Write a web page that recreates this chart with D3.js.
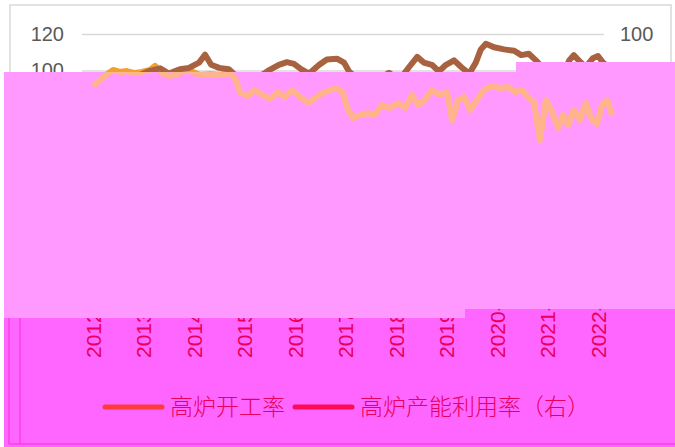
<!DOCTYPE html>
<html>
<head>
<meta charset="utf-8">
<script src="https://cdn.jsdelivr.net/npm/d3@7"></script>
<style>
  body { margin: 0; background: #fff; }
  .tick text { font-family: "Liberation Sans", Arial, sans-serif; font-size: 20px; fill: #595959; }
</style>
</head>
<body>
<div id="chart"></div>
<script>
// data
var years = [2012, 2013, 2014, 2015, 2016, 2017, 2018, 2019, 2020, 2021, 2022];
var tickLabels = ['2012-01-06', '2013-01-04', '2014-01-03', '2015-01-02', '2016-01-08', '2017-01-06',
  '2018-01-05', '2019-01-04', '2020-01-03', '2021-01-08', '2022-01-07'];
var leftTicks = [0, 20, 40, 60, 80, 100, 120];
var rightTicks = [50, 60, 70, 80, 90, 100];
var seriesNames = ['高炉开工率', '高炉产能利用率（右）'];

// 高炉开工率 (left axis)
var openT = [2012.00, 2012.14, 2012.28, 2012.40, 2012.53, 2012.67, 2012.83, 2012.97, 2013.13, 2013.23,
  2013.39, 2013.52, 2013.68, 2013.82, 2013.98, 2014.12, 2014.32, 2014.51, 2014.71, 2014.83,
  2014.91, 2015.05, 2015.21, 2015.35, 2015.50, 2015.66, 2015.80, 2015.94, 2016.10, 2016.26,
  2016.40, 2016.55, 2016.69, 2016.83, 2016.95, 2017.05, 2017.15, 2017.29, 2017.45, 2017.58,
  2017.72, 2017.88, 2018.04, 2018.18, 2018.32, 2018.44, 2018.57, 2018.71, 2018.87, 2019.01,
  2019.11, 2019.23, 2019.35, 2019.47, 2019.60, 2019.74, 2019.90, 2020.06, 2020.22, 2020.36,
  2020.50, 2020.61, 2020.73, 2020.85, 2020.97, 2021.09, 2021.21, 2021.31, 2021.41, 2021.52,
  2021.64, 2021.76, 2021.88, 2021.98, 2022.08, 2022.18, 2022.28];
var openV = [91.5, 94.8, 98, 100.3, 99.2, 99.7, 98.6, 99.2, 100.3, 102.5,
  98, 97, 98, 100.3, 99.2, 97.5, 98, 97.5, 98.6, 94.8,
  88.2, 86, 89.3, 86.6, 84.4, 88.2, 85.5, 89.3, 85.5, 82.2,
  84.9, 87.7, 89.3, 90.4, 87.7, 78.4, 74, 75.6, 76.7, 75.6,
  81.1, 79.5, 82.2, 79.5, 86.6, 81.1, 83.8, 89.3, 86.6, 88.2,
  72.9, 83.8, 85.5, 78.4, 83.8, 89.3, 91.5, 90.4, 91, 88.2,
  89.3, 85.5, 82.7, 61.9, 83.8, 77.3, 68.5, 75.6, 70.1, 78.4,
  72.9, 82.2, 72.9, 70.7, 81.1, 83.8, 75.6];

// 高炉产能利用率 (right axis)
var utilT = [2012.00, 2012.40, 2012.79, 2013.09, 2013.33, 2013.50, 2013.72, 2013.90, 2014.10, 2014.22,
  2014.34, 2014.50, 2014.69, 2014.83, 2015.19, 2015.49, 2015.68, 2015.84, 2015.98, 2016.12,
  2016.28, 2016.48, 2016.63, 2016.83, 2016.97, 2017.07, 2017.27, 2017.56, 2017.86, 2018.06,
  2018.26, 2018.42, 2018.55, 2018.71, 2018.85, 2018.99, 2019.15, 2019.29, 2019.45, 2019.58,
  2019.68, 2019.78, 2019.94, 2020.14, 2020.34, 2020.48, 2020.63, 2020.77, 2020.93, 2021.13,
  2021.33, 2021.43, 2021.52, 2021.66, 2021.76, 2021.90, 2022.00, 2022.10, 2022.28];
var utilV = [89, 89.5, 90, 91.5, 92.2, 91, 92, 92.3, 93.5, 95.3,
  93, 92.3, 92, 90.5, 89.5, 91.8, 93, 93.6, 93.2, 92,
  91, 93, 94.2, 94.4, 93.5, 91.5, 89.5, 89, 91.2, 89.5,
  92.5, 94.8, 93.5, 93, 91.5, 93, 94, 92.5, 91, 93.5,
  96.5, 97.8, 97, 96.5, 96.2, 95.2, 95.5, 94, 92, 90,
  91.5, 94, 95.2, 93.5, 92.5, 94.5, 95, 93.5, 92];

var svg = d3.select('#chart').append('svg')
  .attr('width', 675)
  .attr('height', 447);

var x = d3.scaleLinear().domain([2012, 2022]).range([93, 598]);
var yL = d3.scaleLinear().domain([0, 120]).range([253, 34]);
var yR = d3.scaleLinear().domain([50, 100]).range([254, 34]);

// chart frame
svg.append('rect')
  .attr('x', 10).attr('y', 5)
  .attr('width', 661).attr('height', 436)
  .style('fill', '#fff')
  .style('stroke', '#d9d9d9')
  .style('stroke-width', 1.5);

// gridlines
svg.append('g')
  .attr('transform', 'translate(82,0)')
  .call(d3.axisLeft(yL).tickValues(leftTicks).tickSize(-522).tickFormat(''))
  .call(function (g) { g.select('.domain').remove(); })
  .selectAll('line').style('stroke', '#d9d9d9').style('stroke-width', 1.3);

// left axis
svg.append('g')
  .attr('transform', 'translate(72,0)')
  .call(d3.axisLeft(yL).tickValues(leftTicks).tickSize(0).tickPadding(8))
  .call(function (g) { g.select('.domain').remove(); });

// right axis
svg.append('g')
  .attr('transform', 'translate(612,0)')
  .call(d3.axisRight(yR).tickValues(rightTicks).tickSize(0).tickPadding(8))
  .call(function (g) { g.select('.domain').remove(); });

var openLine = d3.line()
  .x(function (d, i) { return x(openT[i]); })
  .y(function (d) { return yL(d); });

var utilLine = d3.line()
  .x(function (d, i) { return x(utilT[i]); })
  .y(function (d) { return yR(d); });

svg.append('path')
  .attr('d', openLine(openV))
  .style('fill', 'none')
  .style('stroke', '#f2a02e')
  .style('stroke-width', 6)
  .style('stroke-linejoin', 'round');

svg.append('path')
  .attr('d', utilLine(utilV))
  .style('fill', 'none')
  .style('stroke', '#a9623f')
  .style('stroke-width', 6)
  .style('stroke-linejoin', 'round');

// the washed-out block over the plot
var washPts = [[4, 72], [516, 72], [516, 62], [675, 62], [675, 309], [465, 309], [465, 318], [4, 318]];

svg.append('clipPath').attr('id', 'washclip')
  .append('polygon')
  .attr('points', washPts.join(' '));

svg.append('polygon')
  .attr('points', washPts.join(' '))
  .style('fill', '#ff99ff');

svg.append('path')
  .attr('d', openLine(openV))
  .attr('clip-path', 'url(#washclip)')
  .style('fill', 'none')
  .style('stroke', '#ffb48c')
  .style('stroke-width', 6)
  .style('stroke-linejoin', 'round');

// the magenta block under it
var magPts = [[4, 318], [465, 318], [465, 309], [675, 309], [675, 447], [4, 447]];

svg.append('polygon')
  .attr('points', magPts.join(' '))
  .style('fill', '#ff66ff');

svg.append('line')
  .attr('x1', 9).attr('x2', 9).attr('y1', 318).attr('y2', 444)
  .style('stroke', '#ff3fe0').style('stroke-width', 1.5);
svg.append('line')
  .attr('x1', 20).attr('x2', 20).attr('y1', 318).attr('y2', 444)
  .style('stroke', '#ff3fe0').style('stroke-width', 1.5);
svg.append('line')
  .attr('x1', 9).attr('x2', 675).attr('y1', 444).attr('y2', 444)
  .style('stroke', '#ff3fe0').style('stroke-width', 1.5);

// year labels (only their lower part shows below the block)
svg.append('g').selectAll('text')
  .data(years)
  .enter()
  .append('text')
  .attr('transform', function (d) { return 'translate(' + x(d) + ',358) rotate(-90)'; })
  .attr('dy', '0.36em')
  .style('font-family', '"Liberation Sans", Arial, sans-serif')
  .style('font-size', '21px')
  .style('fill', '#e8005c')
  .text(function (d, i) { return tickLabels[i]; });

// cover the label tops again
svg.append('polygon')
  .attr('points', [[4, 250], [675, 250], [675, 309], [465, 309], [465, 318], [4, 318]].join(' '))
  .style('fill', '#ff99ff');

// legend
var legendColors = ['#ff3a3a', '#ff0a55'];
var legendX = [105, 295];

var legend = svg.append('g');
legend.selectAll('line')
  .data(seriesNames)
  .enter()
  .append('line')
  .attr('x1', function (d, i) { return legendX[i]; })
  .attr('x2', function (d, i) { return legendX[i] + 57; })
  .attr('y1', 407).attr('y2', 407)
  .style('stroke', function (d, i) { return legendColors[i]; })
  .style('stroke-width', 5)
  .style('stroke-linecap', 'round');

legend.selectAll('text')
  .data(seriesNames)
  .enter()
  .append('text')
  .attr('x', function (d, i) { return legendX[i] + 65; })
  .attr('y', 415)
  .style('font-family', '"Noto Sans CJK SC", sans-serif')
  .style('font-size', '23px')
  .style('font-weight', 300)
  .style('fill', '#e8005c')
  .text(function (d) { return d; });
</script>
</body>
</html>
